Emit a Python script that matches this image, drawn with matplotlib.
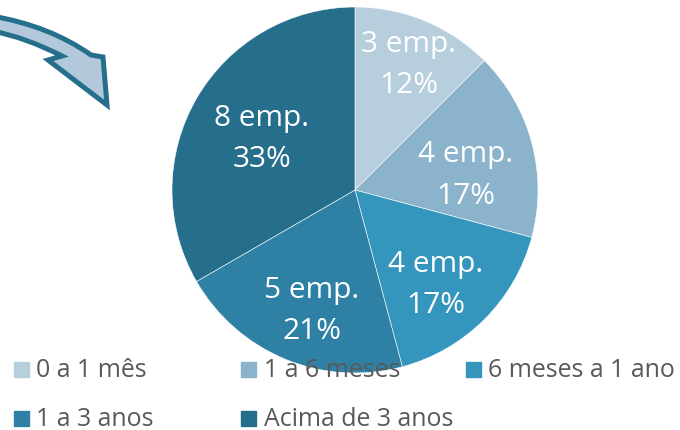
import matplotlib
matplotlib.use("Agg")
import matplotlib.pyplot as plt
from matplotlib.path import Path
from matplotlib.patches import PathPatch
import numpy as np

plt.rcParams['font.family'] = ['Open Sans', 'DejaVu Sans']

categories = ["0 a 1 mês", "1 a 6 meses", "6 meses a 1 ano", "1 a 3 anos", "Acima de 3 anos"]
employees = [3, 4, 4, 5, 8]
percent_labels = ["12%", "17%", "17%", "21%", "33%"]
colors = ["#B7CEDD", "#8BB3CC", "#3596BD", "#2E81A4", "#266F8C"]

W, H = 680, 431
fig = plt.figure(figsize=(W / 100, H / 100), dpi=100)
ax = fig.add_axes([0, 0, 1, 1])

# pie, drawn in pixel-like data units
cx, cy, r = 355, H - 191, 183
wedges, texts = ax.pie(employees, colors=colors, startangle=90, counterclock=False,
                       center=(cx, cy), radius=r, frame=True,
                       labels=[f"{n} emp.\n{p}" for n, p in zip(employees, percent_labels)],
                       labeldistance=0.66,
                       wedgeprops=dict(edgecolor="white", linewidth=0.4),
                       textprops=dict(color="white", fontsize=21.5, ha="center", va="center",
                                      linespacing=1.55))
ax.set_xlim(0, W)
ax.set_ylim(0, H)
ax.set_aspect("equal")
ax.axis("off")

# nudge labels like excel's best fit (radius fraction, angle shift in degrees)
label_r = [0.77, 0.615, 0.66, 0.675, 0.595]
label_dang = [0, -5, -3, 2, -1]
for w, t, lr, da in zip(wedges, texts, label_r, label_dang):
    ang = np.deg2rad((w.theta1 + w.theta2) / 2 + da)
    t.set_position((cx + lr * r * np.cos(ang), cy + lr * r * np.sin(ang) - 4))

# legend drawn by hand
leg_x = [20.5, 247.5, 472.5]
leg_y = [H - 369.5, H - 419]
base_y = [H - 377, H - 426]
for i, (lab, c) in enumerate(zip(categories, colors)):
    x = leg_x[i % 3]
    ax.plot(x, leg_y[i // 3], marker="s", markersize=10.8, color=c, zorder=5, linestyle="none")
    ax.text(x + 16, base_y[i // 3], lab, color="#595959", fontsize=17.9, ha="left",
            va="baseline", zorder=6)

# curved arrow in the top left corner
def px(x, y):
    return (x, H - y)

verts = [px(-8, 17), px(50, 27), px(91, 56),
         px(103, 58), px(107, 106), px(48, 61), px(62, 57),
         px(25, 38), px(-8, 32), px(-8, 17)]
codes = [Path.MOVETO, Path.CURVE3, Path.CURVE3,
         Path.LINETO, Path.LINETO, Path.LINETO, Path.LINETO,
         Path.CURVE3, Path.CURVE3, Path.CLOSEPOLY]
arrow = PathPatch(Path(verts, codes), facecolor="#B3C9DB", edgecolor="#256F8C",
                  linewidth=3.6, joinstyle="miter", zorder=4, clip_on=False)
ax.add_patch(arrow)

fig.savefig("out.png", dpi=100)
